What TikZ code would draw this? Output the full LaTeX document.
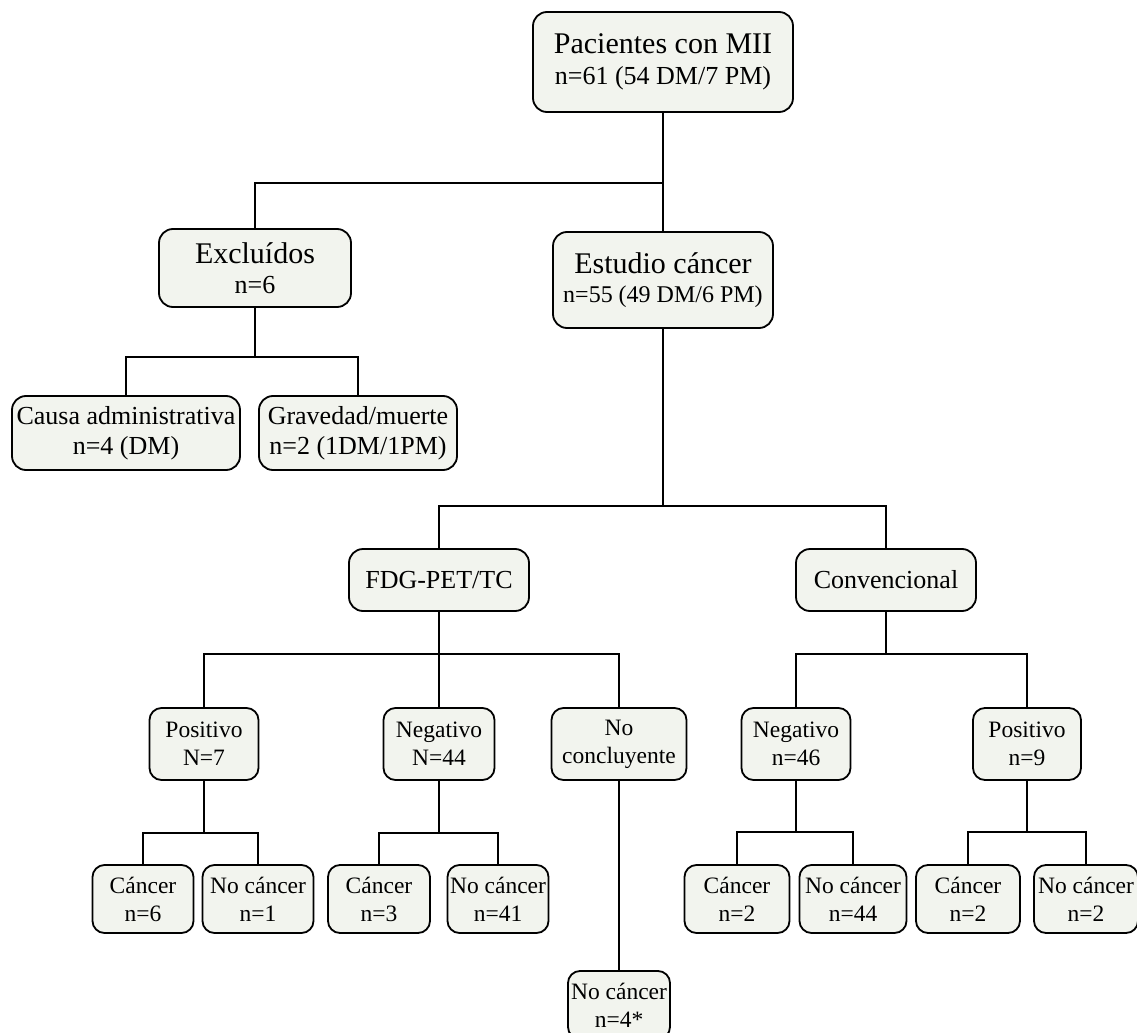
\documentclass[tikz,border=0pt]{standalone}
\usepackage{fontspec}
\setmainfont{Liberation Serif}
\usepackage{tikz}
\usetikzlibrary{positioning}
\definecolor{boxfill}{HTML}{F2F4EE}
\newcommand{\bigtxt}{\fontsize{15}{15}\selectfont}
\newcommand{\midtxt}{\fontsize{13}{15}\selectfont}
\newcommand{\smalltxt}{\fontsize{11.75}{14}\selectfont}
\tikzset{
  box/.style={draw=black,line width=0.9pt,fill=boxfill,rounded corners=7pt,align=center,inner sep=0pt},
  leaf/.style={box,rounded corners=6pt,font=\smalltxt,minimum height=34pt},
  link/.style={line width=1.3pt}
}

\begin{document}
\begin{tikzpicture}[x=0.5pt,y=-0.5pt]
  \useasboundingbox (0,0) rectangle (1137,1033);

  % Top level
  \node[box,minimum width=130pt,minimum height=50pt] (root) at (663,62)
    {\bigtxt Pacientes con MII\\[3.5pt] \midtxt n=61 (54 DM/7 PM)};
  \node[box,minimum width=96pt,minimum height=39pt] (excl) at (255,268)
    {\bigtxt Exclu\'idos\\[3pt] \midtxt n=6};
  \node[box,minimum width=110pt,minimum height=48pt] (estudio) at (663,280)
    {\bigtxt Estudio c\'ancer\\[2.5pt] \fontsize{12}{15}\selectfont n=55 (49 DM/6 PM)};

  % Excluded
  \node[box,font=\midtxt,minimum width=114pt,minimum height=37pt] (causa) at (126,433)
    {Causa administrativa\\n=4 (DM)};
  \node[box,font=\midtxt,minimum width=99pt,minimum height=37pt] (grav) at (358,433)
    {Gravedad/muerte\\n=2 (1DM/1PM)};

  % Study arms
  \node[box,font=\midtxt,minimum width=90pt,minimum height=31pt] (fdg) at (439,580) {FDG-PET/TC};
  \node[box,font=\midtxt,minimum width=90pt,minimum height=31pt] (conv) at (886,580) {Convencional};

  % Results
  \node[leaf,minimum width=54.5pt,minimum height=36pt] (pos1) at (204,744) {Positivo\\N=7};
  \node[leaf,minimum width=55.5pt,minimum height=36pt] (neg1) at (439,744) {Negativo\\N=44};
  \node[leaf,minimum width=67.5pt,minimum height=36pt] (nocon) at (619,744) {No\\concluyente};
  \node[leaf,minimum width=54.5pt,minimum height=36pt] (neg2) at (796,744) {Negativo\\n=46};
  \node[leaf,minimum width=54pt,minimum height=36pt] (pos2) at (1027,744) {Positivo\\n=9};

  % Final outcome
  \node[leaf,minimum width=50.5pt] (c6) at (143,899) {C\'ancer\\n=6};
  \node[leaf,minimum width=55.5pt] (nc1) at (258,899) {No c\'ancer\\n=1};
  \node[leaf,minimum width=51pt] (c3) at (379,899) {C\'ancer\\n=3};
  \node[leaf,minimum width=50.5pt] (nc41) at (498,899) {No c\'ancer\\n=41};
  \node[leaf,minimum width=52.5pt] (c2a) at (737,899) {C\'ancer\\n=2};
  \node[leaf,minimum width=53.5pt] (nc44) at (853,899) {No c\'ancer\\n=44};
  \node[leaf,minimum width=52pt] (c2b) at (968,899) {C\'ancer\\n=2};
  \node[leaf,minimum width=52pt] (nc2) at (1086,899) {No c\'ancer\\n=2};
  \node[leaf,minimum width=51pt] (nc4) at (619,1005) {No c\'ancer\\n=4*};

  % Branch points
  \coordinate (b1) at (663,183);
  \coordinate (b2) at (255,357);
  \coordinate (b3) at (663,506);
  \coordinate (b4) at (439,654);
  \coordinate (b5) at (886,654);
  \coordinate (b6) at (204,833);
  \coordinate (b7) at (439,833);
  \coordinate (b8) at (796,832);
  \coordinate (b9) at (1027,832);

  % Connectors
  \draw[link] (root.south) -- (estudio.north);
  \draw[link] (b1) -| (excl.north);
  \draw[link] (excl.south) -- (b2) -| (causa.north);
  \draw[link] (b2) -| (grav.north);
  \draw[link] (estudio.south) -- (b3) -| (fdg.north);
  \draw[link] (b3) -| (conv.north);
  \draw[link] (fdg.south) -- (b4) -| (pos1.north);
  \draw[link] (b4) -- (neg1.north);
  \draw[link] (b4) -| (nocon.north);
  \draw[link] (conv.south) -- (b5) -| (neg2.north);
  \draw[link] (b5) -| (pos2.north);
  \draw[link] (pos1.south) -- (b6) -| (c6.north);
  \draw[link] (b6) -| (nc1.north);
  \draw[link] (neg1.south) -- (b7) -| (c3.north);
  \draw[link] (b7) -| (nc41.north);
  \draw[link] (neg2.south) -- (b8) -| (c2a.north);
  \draw[link] (b8) -| (nc44.north);
  \draw[link] (pos2.south) -- (b9) -| (c2b.north);
  \draw[link] (b9) -| (nc2.north);
  \draw[link] (nocon.south) -- (nc4.north);
\end{tikzpicture}
\end{document}
